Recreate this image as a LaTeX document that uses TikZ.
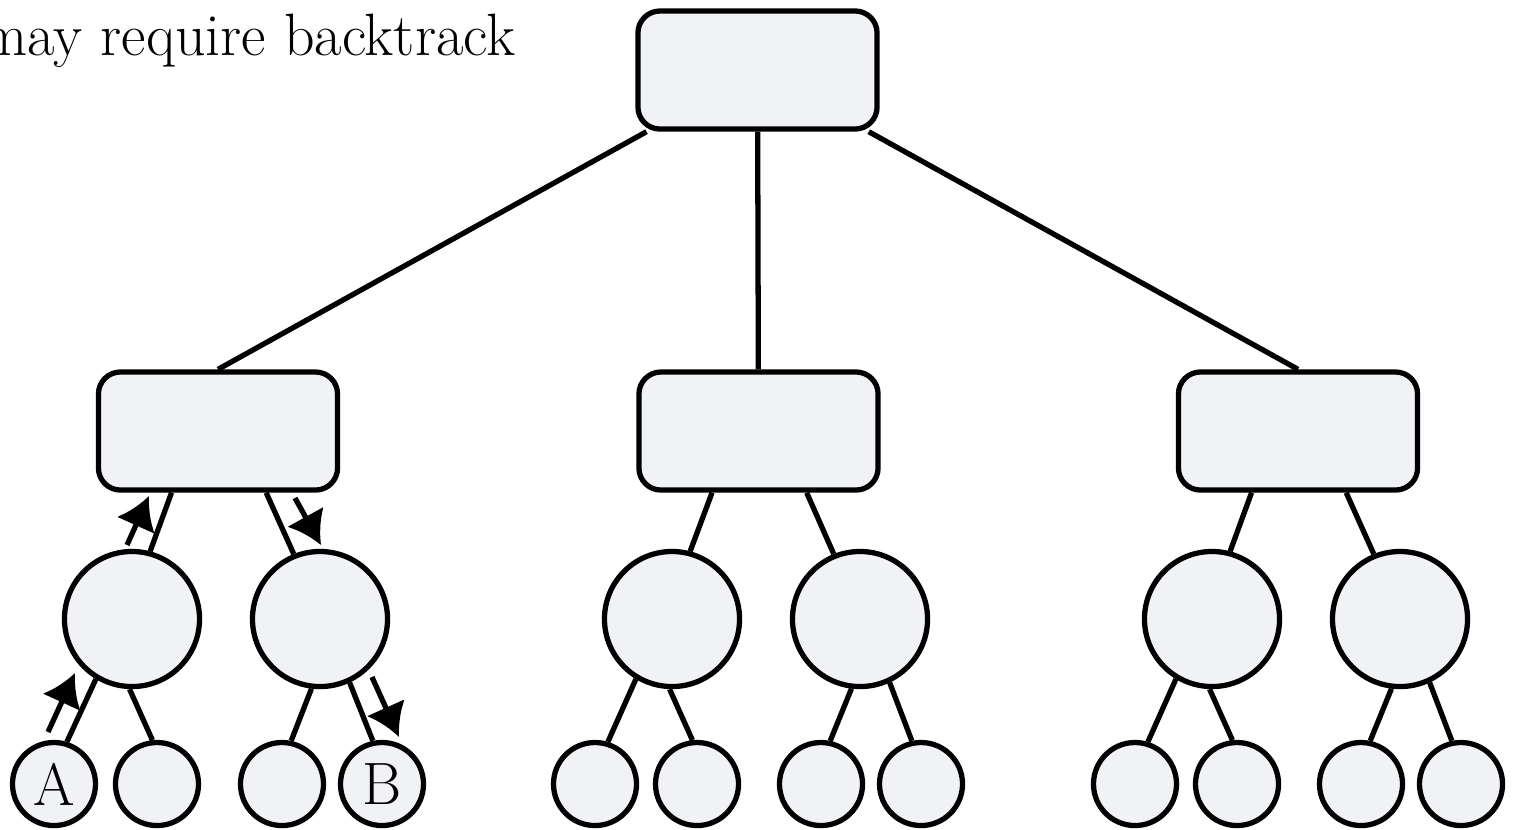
\documentclass[tikz,border=0pt]{standalone}
\usepackage{tikz}
\usetikzlibrary{arrows.meta}
\definecolor{nodefill}{HTML}{F1F2F6}
\tikzset{
	box/.style={draw, fill=nodefill, rounded corners=0.22cm, minimum width=2.39cm, minimum height=1.18cm},
	inner/.style={draw, fill=nodefill, circle, minimum size=1.35cm, inner sep=0pt},
	leaf/.style={draw, fill=nodefill, circle, minimum size=0.83cm, inner sep=0pt, font=\fontsize{17}{20}\selectfont},
	move/.style={-{Latex[length=3.2mm, width=4.2mm]}}
}
\begin{document}
\begin{tikzpicture}[x=0.01cm, y=-0.01cm, line width=1.5pt, line join=round]
				\useasboundingbox (0, 0) rectangle (1513, 829);
				% Boxes:
				\node[box](root) at (757.5, 70){};
				\node[box](nL) at (218, 431){};
				\node[box](nM) at (758.5, 431){};
				\node[box](nR) at (1298, 431){};
				% Inner circles:
				\node[inner](cL1) at (132, 619){};
				\node[inner](cL2) at (320, 619){};
				\node[inner](cM1) at (672, 619){};
				\node[inner](cM2) at (860, 619){};
				\node[inner](cR1) at (1212, 619){};
				\node[inner](cR2) at (1400, 619){};
				% Leaves:
				\node[leaf](lL1) at (54, 784){A};
				\node[leaf](lL2) at (157, 784){};
				\node[leaf](lL3) at (282, 784){};
				\node[leaf](lL4) at (382, 784){B};
				\node[leaf](lM1) at (595, 784){};
				\node[leaf](lM2) at (697, 784){};
				\node[leaf](lM3) at (821, 784){};
				\node[leaf](lM4) at (921, 784){};
				\node[leaf](lR1) at (1135, 784){};
				\node[leaf](lR2) at (1237, 784){};
				\node[leaf](lR3) at (1361, 784){};
				\node[leaf](lR4) at (1461, 784){};
				% Wires:
				\draw (root) -- (nL.north);
				\draw (root) -- (nM);
				\draw (root) -- (nR.north);
				\draw (nL.233.5) -- (cL1.75);
				\draw (nL.308.8) -- (cL2.112);
				\draw (nM.233.5) -- (cM1.75);
				\draw (nM.308.8) -- (cM2.112);
				\draw (nR.233.5) -- (cR1.75);
				\draw (nR.308.8) -- (cR2.112);
				\draw (cL1.239) -- (lL1.73);
				\draw (cL1.268) -- (lL2.96);
				\draw (cL2.263) -- (lL3.78);
				\draw (cL2.295) -- (lL4.102);
				\draw (cM1.239) -- (lM1.73);
				\draw (cM1.268) -- (lM2.96);
				\draw (cM2.263) -- (lM3.78);
				\draw (cM2.295) -- (lM4.102);
				\draw (cR1.239) -- (lR1.73);
				\draw (cR1.268) -- (lR2.96);
				\draw (cR2.263) -- (lR3.78);
				\draw (cR2.295) -- (lR4.102);
				% Backtrack arrows:
				\coordinate (up1s) at (48, 732);
				\coordinate (up1e) at (75, 673);
				\coordinate (up2s) at (127, 545);
				\coordinate (up2e) at (149, 496);
				\coordinate (dn1s) at (295, 498);
				\coordinate (dn1e) at (321, 545);
				\coordinate (dn2s) at (372, 677);
				\coordinate (dn2e) at (399, 737);
				\draw[move] (up1s) -- (up1e);
				\draw[move] (up2s) -- (up2e);
				\draw[move] (dn1s) -- (dn1e);
				\draw[move] (dn2s) -- (dn2e);
				\node[anchor=base east, inner sep=0pt, font=\fontsize{17}{20}\selectfont](note) at (518, 55){may require backtrack};
			\end{tikzpicture}
\end{document}
